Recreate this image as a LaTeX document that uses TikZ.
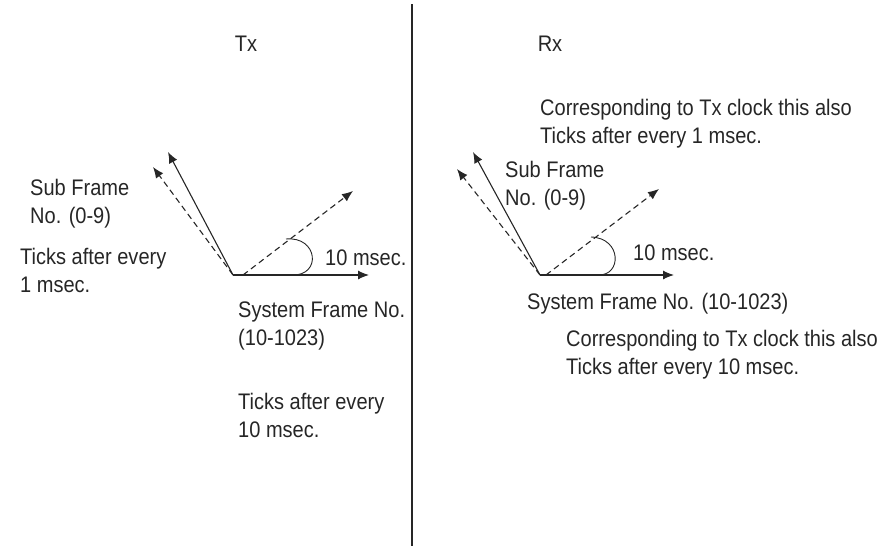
\documentclass[tikz,border=0pt]{standalone}
\usepackage{fontspec}
\setmainfont[FakeStretch=0.89]{Liberation Sans}
\usetikzlibrary{arrows.meta}

\begin{document}
\begin{tikzpicture}[x=1pt,y=-1pt,
    lbl/.style={inner sep=0pt, anchor=west, align=left, text=black!85, font=\fontsize{22.5}{28}\selectfont},
    vec/.style={line width=1.1pt, black!85, -{Latex[length=11pt,width=9pt]}},
    dvec/.style={vec, dashed, dash pattern=on 6pt off 4pt}]
                        \useasboundingbox (0,0) rectangle (889,546);
                        % Nodes
                        \node[lbl, anchor=center] (tx) at (246,44) {Tx};
                        \node[lbl, anchor=center] (rx) at (550,44) {Rx};
                        \coordinate (top) at (412,4);
                        \coordinate (bot) at (412,546);

                        \coordinate (tO) at (233,275);
                        \coordinate (tSys) at (369,275);
                        \coordinate (tSub) at (168,152);
                        \coordinate (tSubD) at (153,167);
                        \coordinate (tSysD) at (353,191);
                        \node[lbl] (tsubtxt) at (30,204) {Sub Frame\\No. (0-9)};
                        \node[lbl] (ttick1) at (20,270) {Ticks after every\\1 msec.};
                        \node[lbl] (t10) at (325,258) {10 msec.};
                        \node[lbl] (tsystxt) at (238,326) {System Frame No.\\(10-1023)};
                        \node[lbl] (ttick10) at (238,415) {Ticks after every\\10 msec.};

                        \coordinate (rO) at (540,275);
                        \coordinate (rSys) at (674,275);
                        \coordinate (rSub) at (473,152);
                        \coordinate (rSubD) at (457,169);
                        \coordinate (rSysD) at (659,189);
                        \node[lbl] (rcorr1) at (540,124) {Corresponding to Tx clock this also\\Ticks after every 1 msec.};
                        \node[lbl] (rsubtxt) at (505,186) {Sub Frame\\No. (0-9)};
                        \node[lbl] (r10) at (633,253) {10 msec.};
                        \node[lbl] (rsystxt) at (527,304) {System Frame No. (10-1023)};
                        \node[lbl] (rcorr10) at (566,355) {Corresponding to Tx clock this also\\Ticks after every 10 msec.};

                        % Edges
                        \draw[line width=1.1pt, black!85] (top) -- (bot);

                        \draw[vec] (tO) -- (tSys);
                        \draw[vec] (tO) -- (tSub);
                        \draw[dvec] (tO) -- (tSubD);
                        \draw[dvec] ([xshift=10pt]tO) -- (tSysD);
                        \draw[line width=0.9pt, black!85] (286,239) .. controls (318,236) and (322,276) .. (292,275);

                        \draw[vec] (rO) -- (rSys);
                        \draw[vec] (rO) -- (rSub);
                        \draw[dvec] (rO) -- (rSubD);
                        \draw[dvec] ([xshift=6pt]rO) -- (rSysD);
                        \draw[line width=0.9pt, black!85] (591,237) .. controls (622,238) and (622,276) .. (598,275);
                    \end{tikzpicture}
\end{document}
